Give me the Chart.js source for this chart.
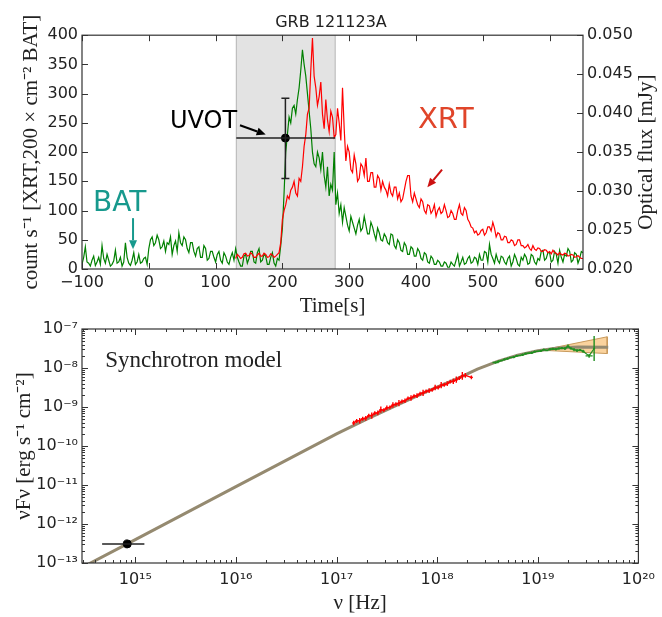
<!DOCTYPE html>
<html>
<head>
<meta charset="utf-8">
<script src="https://cdn.jsdelivr.net/npm/chart.js@4.4.1/dist/chart.umd.min.js"></script>
<style>
  body { margin: 0; background: #fff; }
  #box { position: relative; width: 662px; height: 617px; }
  canvas { position: absolute; left: 0; }
  #lc { top: 0; }
  #sed { top: 300px; }
</style>
</head>
<body>
<div id="box">
  <canvas id="lc" width="662" height="320"></canvas>
  <canvas id="sed" width="662" height="317"></canvas>
</div>
<script>
// ---- light curve (top panel), 2.5 s bins ----
var binTime = [-100,-97.5,-95,-92.5,-90,-87.5,-85,-82.5,-80,-77.5,-75,-72.5,-70,-67.5,-65,-62.5,-60,-57.5,-55,-52.5,
  -50,-47.5,-45,-42.5,-40,-37.5,-35,-32.5,-30,-27.5,-25,-22.5,-20,-17.5,-15,-12.5,-10,-7.5,-5,-2.5,
  0,2.5,5,7.5,10,12.5,15,17.5,20,22.5,25,27.5,30,32.5,35,37.5,40,42.5,45,47.5,
  50,52.5,55,57.5,60,62.5,65,67.5,70,72.5,75,77.5,80,82.5,85,87.5,90,92.5,95,97.5,
  100,102.5,105,107.5,110,112.5,115,117.5,120,122.5,125,127.5,130,132.5,135,137.5,140,142.5,145,147.5,
  150,152.5,155,157.5,160,162.5,165,167.5,170,172.5,175,177.5,180,182.5,185,187.5,190,192.5,195,197.5,
  200,202.5,205,207.5,210,212.5,215,217.5,220,222.5,225,227.5,230,232.5,235,237.5,240,242.5,245,247.5,
  250,252.5,255,257.5,260,262.5,265,267.5,270,272.5,275,277.5,280,282.5,285,287.5,290,292.5,295,297.5,
  300,302.5,305,307.5,310,312.5,315,317.5,320,322.5,325,327.5,330,332.5,335,337.5,340,342.5,345,347.5,
  350,352.5,355,357.5,360,362.5,365,367.5,370,372.5,375,377.5,380,382.5,385,387.5,390,392.5,395,397.5,
  400,402.5,405,407.5,410,412.5,415,417.5,420,422.5,425,427.5,430,432.5,435,437.5,440,442.5,445,447.5,
  450,452.5,455,457.5,460,462.5,465,467.5,470,472.5,475,477.5,480,482.5,485,487.5,490,492.5,495,497.5,
  500,502.5,505,507.5,510,512.5,515,517.5,520,522.5,525,527.5,530,532.5,535,537.5,540,542.5,545,547.5,
  550,552.5,555,557.5,560,562.5,565,567.5,570,572.5,575,577.5,580,582.5,585,587.5,590,592.5,595,597.5,
  600,602.5,605,607.5,610,612.5,615,617.5,620,622.5,625,627.5,630,632.5,635,637.5,640,642.5,645,647.5,
  650];
var batCounts = [8,20,38,12,10,5,15,22,6,12,20,8,40,18,10,25,15,5,8,14,
  32,10,12,20,5,12,45,20,10,6,15,28,8,12,25,10,12,18,20,8,
  35,50,55,40,45,58,50,35,38,48,30,45,42,55,25,40,48,30,62,45,
  40,55,50,35,28,45,45,30,22,35,38,20,20,40,35,15,18,30,30,20,
  12,25,30,15,10,28,22,12,8,20,28,15,35,20,12,5,5,22,25,10,
  18,30,30,12,10,28,35,12,15,25,22,8,8,20,28,10,5,18,15,40,
  70,130,200,230,260,250,275,280,265,290,310,340,375,350,330,300,270,240,200,180,
  175,200,190,170,200,160,140,175,125,145,135,200,110,130,95,110,80,105,90,75,
  65,90,80,70,60,75,85,65,70,90,75,60,60,80,72,60,50,70,62,50,
  48,60,55,45,42,60,58,40,35,50,45,32,30,45,40,25,25,38,35,22,
  22,35,30,18,15,28,25,12,10,22,18,8,8,15,12,5,5,12,10,3,
  3,12,8,5,15,25,5,12,20,8,10,18,22,10,12,20,18,8,25,15,
  15,30,28,12,42,25,18,10,25,15,10,22,20,12,8,18,22,5,12,25,
  18,8,5,20,15,25,20,8,10,25,22,12,8,18,15,30,32,15,18,28,
  28,12,15,30,25,10,32,20,12,25,22,35,30,12,15,28,25,10,18,30,
  28];
var xrtTime = binTime.slice(92); // XRT starts at 130 s
var xrtCounts = [18,25,22,18,20,26,27,22,23,28,25,20,20,24,27,22,22,27,25,20,
  21,26,24,20,22,25,28,45,85,100,110,125,120,135,140,150,130,125,155,150,
  175,210,230,265,275,340,395,330,310,280,295,320,265,240,290,255,235,270,260,225,
  230,275,250,220,310,240,185,210,200,170,165,195,180,150,155,180,175,160,190,150,
  150,165,165,140,140,160,155,135,150,140,135,125,145,130,125,140,140,120,130,115,
  120,135,150,160,160,125,115,130,120,110,105,120,115,100,95,110,108,95,100,110,
  90,100,105,95,98,110,100,88,90,100,95,85,85,100,110,95,92,105,100,85,
  80,72,70,62,65,58,60,66,68,58,62,72,72,65,80,70,55,62,60,50,
  50,56,55,45,45,50,48,40,42,50,50,40,40,36,38,42,35,32,40,34,
  32,36,35,30,30,33,32,28,30,26,32,28,27,24,28,25,24,27,26,22,
  23,25,24,20,21,23,20,18,18];
var uvotTime = 204.5, uvotFlux = 0.0368;
var uvotTimeRange = [131, 279], uvotFluxRange = [0.0316, 0.0419];
var shadeRange = [131, 279];
var timeTicks = [-100, 0, 100, 200, 300, 400, 500, 600];
var countTicks = [0, 50, 100, 150, 200, 250, 300, 350, 400];
var fluxTicks = [0.020, 0.025, 0.030, 0.035, 0.040, 0.045, 0.050];

// ---- SED (bottom panel), log10 values ----
var modelLogNu = [14.40,15.00,16.00,17.00,17.30,17.60,17.90,18.20,18.40,18.60,18.80,19.00,19.20,19.40,19.70];
var modelLogF = [-13.21,-12.40,-11.04,-9.69,-9.31,-8.95,-8.60,-8.27,-8.03,-7.83,-7.67,-7.56,-7.49,-7.46,-7.47];
var xrtLogNu = [17.17,17.20,17.23,17.26,17.29,17.32,17.35,17.38,17.41,17.44,17.47,17.50,17.53,17.56,17.59,17.62,17.65,17.68,17.71,17.74,
  17.77,17.80,17.83,17.86,17.89,17.92,17.95,17.98,18.01,18.04,18.07,18.10,18.13,18.16,18.19,18.22,18.25,18.28,18.34];
var xrtLogF = [-9.41,-9.36,-9.35,-9.30,-9.29,-9.22,-9.22,-9.16,-9.15,-9.07,-9.08,-9.02,-9.01,-8.95,-8.93,-8.90,-8.86,-8.84,-8.78,-8.77,
  -8.72,-8.71,-8.66,-8.64,-8.60,-8.58,-8.56,-8.50,-8.50,-8.44,-8.43,-8.40,-8.35,-8.34,-8.30,-8.26,-8.20,-8.19,-8.24];
var xrtLogErr = [0.06,0.05,0.07,0.05,0.06,0.05,0.08,0.05,0.06,0.08,0.05,0.06,0.05,0.07,0.05,0.08,0.05,0.06,0.05,0.07,
  0.05,0.06,0.05,0.08,0.05,0.06,0.05,0.07,0.05,0.08,0.05,0.06,0.05,0.07,0.08,0.05,0.10,0.06,0.05];
var xrtHalfBin = 0.015;
var batLogNu = [18.58,18.61,18.64,18.67,18.70,18.73,18.76,18.79,18.82,18.85,18.88,18.91,18.94,18.97,19.00,19.03,
  19.06,19.09,19.12,19.15,19.18,19.21,19.24,19.27,19.30,19.33,19.36,19.39,19.42,19.45,19.51,19.56];
var batLogF = [-7.86,-7.83,-7.81,-7.78,-7.76,-7.73,-7.72,-7.69,-7.68,-7.66,-7.63,-7.62,-7.61,-7.58,-7.57,-7.56,
  -7.53,-7.55,-7.52,-7.51,-7.52,-7.50,-7.49,-7.50,-7.44,-7.50,-7.53,-7.55,-7.54,-7.57,-7.69,-7.50];
var batLogErr = [0.03,0.03,0.02,0.03,0.03,0.02,0.03,0.03,0.02,0.03,0.03,0.02,0.03,0.03,0.02,0.03,
  0.03,0.02,0.03,0.03,0.03,0.03,0.03,0.04,0.04,0.03,0.04,0.04,0.03,0.04,0.05,0.32];
var batHalfBin = [0.03,0.015,0.015,0.015,0.015,0.015,0.015,0.015,0.015,0.015,0.015,0.015,0.015,0.015,0.015,0.015,
  0.015,0.015,0.015,0.015,0.015,0.015,0.015,0.015,0.015,0.015,0.015,0.015,0.015,0.015,0.035,0.01];
var bandLogNu = [19.08, 19.69, 19.69, 19.08, 19.08];
var bandLogF = [-7.52, -7.20, -7.63, -7.55, -7.52];
var optLogNu = 14.92, optLogF = -12.51, optLogNuRange = [14.67, 15.09];

var pw = function (v) { return Math.pow(10, v); };
var SANS = 'DejaVu Sans', SERIF = 'Liberation Serif';
Chart.defaults.font.family = SANS;
Chart.defaults.color = '#222';

function sup(n) {
  var map = { '-': '\u207B', '0': '\u2070', '1': '\u00B9', '2': '\u00B2', '3': '\u00B3', '4': '\u2074',
    '5': '\u2075', '6': '\u2076', '7': '\u2077', '8': '\u2078', '9': '\u2079' };
  return String(n).split('').map(function (c) { return map[c]; }).join('');
}

function logTicks(scale) {
  var out = [];
  var d0 = Math.floor(Math.log10(scale.min)), d1 = Math.ceil(Math.log10(scale.max));
  for (var d = d0; d <= d1; d++) {
    for (var m = 1; m < 10; m++) {
      var v = Number((m * Math.pow(10, d)).toPrecision(6));
      if (v >= scale.min * 0.9999 && v <= scale.max * 1.0001) out.push({ value: v, big: m === 1 });
    }
  }
  scale.ticks = out;
}
function logLabel(v, i, ticks) {
  return ticks[i].big ? '10' + sup(Math.round(Math.log10(v))) : '';
}

// box around the plot plus matplotlib-style inward ticks
var framePlugin = {
  id: 'frame',
  afterDraw: function (chart, args, o) {
    var ctx = chart.ctx, a = chart.chartArea;
    ctx.save();
    ctx.strokeStyle = '#333';
    ctx.lineWidth = 1.2;
    ctx.strokeRect(a.left, a.top, a.right - a.left, a.bottom - a.top);
    ctx.lineWidth = 1;
    (o.axes || []).forEach(function (ax) {
      var s = chart.scales[ax.id];
      s.ticks.forEach(function (t) {
        var p = Math.round(s.getPixelForValue(t.value)) + 0.5;
        var len = t.big === false ? 3 : 6;
        ctx.beginPath();
        ax.sides.forEach(function (side) {
          if (side === 'bottom') { ctx.moveTo(p, a.bottom); ctx.lineTo(p, a.bottom - len); }
          if (side === 'top') { ctx.moveTo(p, a.top); ctx.lineTo(p, a.top + len); }
          if (side === 'left') { ctx.moveTo(a.left, p); ctx.lineTo(a.left + len, p); }
          if (side === 'right') { ctx.moveTo(a.right, p); ctx.lineTo(a.right - len, p); }
        });
        ctx.stroke();
      });
    });
    ctx.restore();
  }
};

// error bars: ds.bars = [[xlo, xhi, ylo, yhi], ...]
var errPlugin = {
  id: 'errbars',
  afterDatasetsDraw: function (chart) {
    var ctx = chart.ctx, a = chart.chartArea;
    chart.data.datasets.forEach(function (ds, i) {
      if (!ds.bars) return;
      var meta = chart.getDatasetMeta(i);
      var xs = chart.scales[meta.xAxisID], ys = chart.scales[meta.yAxisID];
      ctx.save();
      ctx.beginPath();
      ctx.rect(a.left, a.top, a.right - a.left, a.bottom - a.top);
      ctx.clip();
      ctx.strokeStyle = ds.barColor;
      ctx.lineWidth = ds.barWidth || 1;
      ds.bars.forEach(function (b, k) {
        var px = xs.getPixelForValue(ds.data[k].x), py = ys.getPixelForValue(ds.data[k].y);
        var y0 = ys.getPixelForValue(b[2]), y1 = ys.getPixelForValue(b[3]);
        ctx.beginPath();
        ctx.moveTo(xs.getPixelForValue(b[0]), py);
        ctx.lineTo(xs.getPixelForValue(b[1]), py);
        ctx.moveTo(px, y0);
        ctx.lineTo(px, y1);
        if (ds.capSize) {
          ctx.moveTo(px - ds.capSize, y0); ctx.lineTo(px + ds.capSize, y0);
          ctx.moveTo(px - ds.capSize, y1); ctx.lineTo(px + ds.capSize, y1);
        }
        ctx.stroke();
      });
      ctx.restore();
    });
  }
};

var shadePlugin = {
  id: 'shade',
  beforeDatasetsDraw: function (chart) {
    var ctx = chart.ctx, a = chart.chartArea, s = chart.scales.x;
    var x0 = s.getPixelForValue(shadeRange[0]), x1 = s.getPixelForValue(shadeRange[1]);
    ctx.save();
    ctx.fillStyle = '#e3e3e3';
    ctx.fillRect(x0, a.top, x1 - x0, a.bottom - a.top);
    ctx.strokeStyle = '#b5b5b5';
    ctx.beginPath();
    ctx.moveTo(x0, a.top); ctx.lineTo(x0, a.bottom);
    ctx.moveTo(x1, a.top); ctx.lineTo(x1, a.bottom);
    ctx.stroke();
    ctx.restore();
  }
};

function arrow(ctx, x1, y1, x2, y2, color) {
  var ang = Math.atan2(y2 - y1, x2 - x1), h = 9, w = 4;
  var bx = x2 - h * Math.cos(ang), by = y2 - h * Math.sin(ang);
  ctx.strokeStyle = color; ctx.fillStyle = color; ctx.lineWidth = 2;
  ctx.beginPath(); ctx.moveTo(x1, y1); ctx.lineTo(bx, by); ctx.stroke();
  ctx.beginPath();
  ctx.moveTo(x2, y2);
  ctx.lineTo(bx + w * Math.sin(ang), by - w * Math.cos(ang));
  ctx.lineTo(bx - w * Math.sin(ang), by + w * Math.cos(ang));
  ctx.closePath(); ctx.fill();
}

// text labels, arrows and rotated titles placed in data coordinates
var notesPlugin = {
  id: 'notes',
  afterDraw: function (chart, args, o) {
    var ctx = chart.ctx, sx = chart.scales.x, sy = chart.scales.y;
    ctx.save();
    (o.texts || []).forEach(function (t) {
      ctx.font = t.font;
      ctx.fillStyle = t.color;
      ctx.textAlign = 'left';
      ctx.textBaseline = 'alphabetic';
      ctx.fillText(t.text, sx.getPixelForValue(t.x), sy.getPixelForValue(t.y));
    });
    (o.arrows || []).forEach(function (r) {
      arrow(ctx, sx.getPixelForValue(r.from[0]), sy.getPixelForValue(r.from[1]),
        sx.getPixelForValue(r.to[0]), sy.getPixelForValue(r.to[1]), r.color);
    });
    if (o.rightTitle) {
      var a = chart.chartArea;
      ctx.translate(o.rightTitle.x, (a.top + a.bottom) / 2);
      ctx.rotate(-Math.PI / 2);
      ctx.font = o.rightTitle.font;
      ctx.fillStyle = '#222';
      ctx.textAlign = 'center';
      ctx.textBaseline = 'middle';
      ctx.fillText(o.rightTitle.text, 0, 0);
    }
    ctx.restore();
  }
};

var tickFont = { family: SANS, size: 16 };
var titleFont = { family: SERIF, size: 21 };
var noGrid = { display: false, drawTicks: false, tickLength: 0 };

new Chart(document.getElementById('lc'), {
  type: 'line',
  data: {
    datasets: [
      {
        label: 'UVOT', yAxisID: 'y1', order: 0, showLine: false,
        data: [{ x: uvotTime, y: uvotFlux }],
        pointRadius: 4, pointBackgroundColor: '#000', pointBorderColor: '#000',
        bars: [[uvotTimeRange[0], uvotTimeRange[1], uvotFluxRange[0], uvotFluxRange[1]]],
        barColor: '#222', barWidth: 1.5, capSize: 4
      },
      {
        label: 'XRT', yAxisID: 'y', order: 1,
        data: xrtTime.map(function (t, i) { return { x: t, y: xrtCounts[i] }; }),
        borderColor: '#ff0000', borderWidth: 1.2, pointRadius: 0
      },
      {
        label: 'BAT', yAxisID: 'y', order: 2,
        data: binTime.map(function (t, i) { return { x: t, y: batCounts[i] }; }),
        borderColor: '#008000', borderWidth: 1.2, pointRadius: 0
      }
    ]
  },
  options: {
    responsive: false,
    animation: false,
    layout: { padding: 0 },
    plugins: {
      legend: { display: false },
      tooltip: { enabled: false },
      title: {
        display: true, text: 'GRB 121123A', color: '#222',
        font: { family: SANS, size: 16, weight: 'normal' },
        padding: { top: 13, bottom: 3 }
      },
      frame: { axes: [{ id: 'x', sides: ['bottom', 'top'] }, { id: 'y', sides: ['left'] }, { id: 'y1', sides: ['right'] }] },
      notes: {
        texts: [
          { text: 'BAT', x: -83.5, y: 99, color: '#17998d', font: '28px ' + SANS },
          { text: 'UVOT', x: 31.7, y: 241, color: '#000', font: '24px ' + SANS },
          { text: 'XRT', x: 403, y: 241, color: '#e0452a', font: '29px ' + SANS }
        ],
        arrows: [
          { from: [-23.6, 87], to: [-23.6, 34], color: '#17998d' },
          { from: [136.5, 246], to: [175, 230], color: '#000' },
          { from: [439, 170], to: [417, 140], color: '#cc1111' }
        ],
        rightTitle: { text: 'Optical flux [mJy]', x: 646, font: '21px ' + SERIF }
      }
    },
    scales: {
      x: {
        type: 'linear', min: -100, max: 650,
        afterBuildTicks: function (s) { s.ticks = timeTicks.map(function (v) { return { value: v }; }); },
        afterFit: function (s) { s.height = 51; },
        grid: noGrid, border: { display: false },
        ticks: { font: tickFont, padding: 4, maxRotation: 0, callback: function (v) { return String(v).replace('-', '\u2212'); } },
        title: { display: true, text: 'Time[s]', font: titleFont, padding: { top: 0, bottom: 1 } }
      },
      y: {
        position: 'left', min: 0, max: 400,
        afterBuildTicks: function (s) { s.ticks = countTicks.map(function (v) { return { value: v }; }); },
        afterFit: function (s) { s.width = 82; },
        grid: noGrid, border: { display: false },
        ticks: { font: tickFont, padding: 4 },
        title: { display: true, text: 'count s\u207B\u00B9 [XRT,200 \u00D7 cm\u207B\u00B2 BAT]', font: titleFont, padding: { top: 19, bottom: 0 } }
      },
      y1: {
        position: 'right', min: 0.02, max: 0.05,
        afterBuildTicks: function (s) { s.ticks = fluxTicks.map(function (v) { return { value: v }; }); },
        afterFit: function (s) { s.width = 79; },
        grid: noGrid, border: { display: false },
        ticks: { font: tickFont, padding: 4, callback: function (v) { return v.toFixed(3); } }
      }
    }
  },
  plugins: [shadePlugin, errPlugin, framePlugin, notesPlugin]
});

new Chart(document.getElementById('sed'), {
  type: 'line',
  data: {
    datasets: [
      {
        label: 'optical', order: 0, showLine: false,
        data: [{ x: pw(optLogNu), y: pw(optLogF) }],
        pointRadius: 4, pointBackgroundColor: '#000', pointBorderColor: '#000',
        bars: [[pw(optLogNuRange[0]), pw(optLogNuRange[1]), pw(optLogF), pw(optLogF)]],
        barColor: '#222', barWidth: 1.5
      },
      {
        label: 'BAT', order: 1, showLine: true,
        data: batLogNu.map(function (v, i) { return { x: pw(v), y: pw(batLogF[i]) }; }),
        borderColor: '#1f8f1f', borderWidth: 1.2, pointRadius: 0,
        bars: batLogNu.map(function (v, i) { return [pw(v - batHalfBin[i]), pw(v + batHalfBin[i]), pw(batLogF[i] - batLogErr[i]), pw(batLogF[i] + batLogErr[i])]; }),
        barColor: '#1f8f1f', barWidth: 1.4
      },
      {
        label: 'XRT', order: 2, showLine: true,
        data: xrtLogNu.map(function (v, i) { return { x: pw(v), y: pw(xrtLogF[i]) }; }),
        borderColor: '#ff0000', borderWidth: 1.5, pointRadius: 0,
        bars: xrtLogNu.map(function (v, i) { return [pw(v - xrtHalfBin), pw(v + xrtHalfBin), pw(xrtLogF[i] - xrtLogErr[i]), pw(xrtLogF[i] + xrtLogErr[i])]; }),
        barColor: '#ff0000', barWidth: 1.4
      },
      {
        label: 'model', order: 3,
        data: modelLogNu.map(function (v, i) { return { x: pw(v), y: pw(modelLogF[i]) }; }),
        borderColor: '#958a70', borderWidth: 3, pointRadius: 0
      },
      {
        label: 'band', order: 4, fill: 'shape',
        data: bandLogNu.map(function (v, i) { return { x: pw(v), y: pw(bandLogF[i]) }; }),
        borderColor: '#c89a5c', borderWidth: 1, backgroundColor: 'rgba(248,196,125,0.75)', pointRadius: 0
      }
    ]
  },
  options: {
    responsive: false,
    animation: false,
    layout: { padding: { top: 29 } },
    plugins: {
      legend: { display: false },
      tooltip: { enabled: false },
      frame: { axes: [{ id: 'x', sides: ['bottom', 'top'] }, { id: 'y', sides: ['left', 'right'] }] },
      notes: {
        texts: [{ text: 'Synchrotron model', x: pw(14.70), y: pw(-7.97), color: '#222', font: '23px ' + SERIF }]
      }
    },
    scales: {
      x: {
        type: 'logarithmic', min: pw(14.47), max: 1e20,
        afterBuildTicks: logTicks,
        afterFit: function (s) { s.height = 54; },
        grid: noGrid, border: { display: false },
        ticks: { font: tickFont, padding: 7, autoSkip: false, maxRotation: 0, callback: logLabel },
        title: { display: true, text: '\u03BD [Hz]', font: titleFont, padding: { top: 0, bottom: 1 } }
      },
      y: {
        type: 'logarithmic', min: 1e-13, max: 1e-7,
        afterBuildTicks: logTicks,
        afterFit: function (s) { s.width = 82; },
        grid: noGrid, border: { display: false },
        ticks: { font: tickFont, padding: 4, autoSkip: false, callback: logLabel },
        title: { display: true, text: '\u03BDF\u03BD [erg s\u207B\u00B9 cm\u207B\u00B2]', font: titleFont, padding: { top: 12, bottom: 0 } }
      }
    }
  },
  plugins: [errPlugin, framePlugin, notesPlugin]
});
</script>
</body>
</html>
